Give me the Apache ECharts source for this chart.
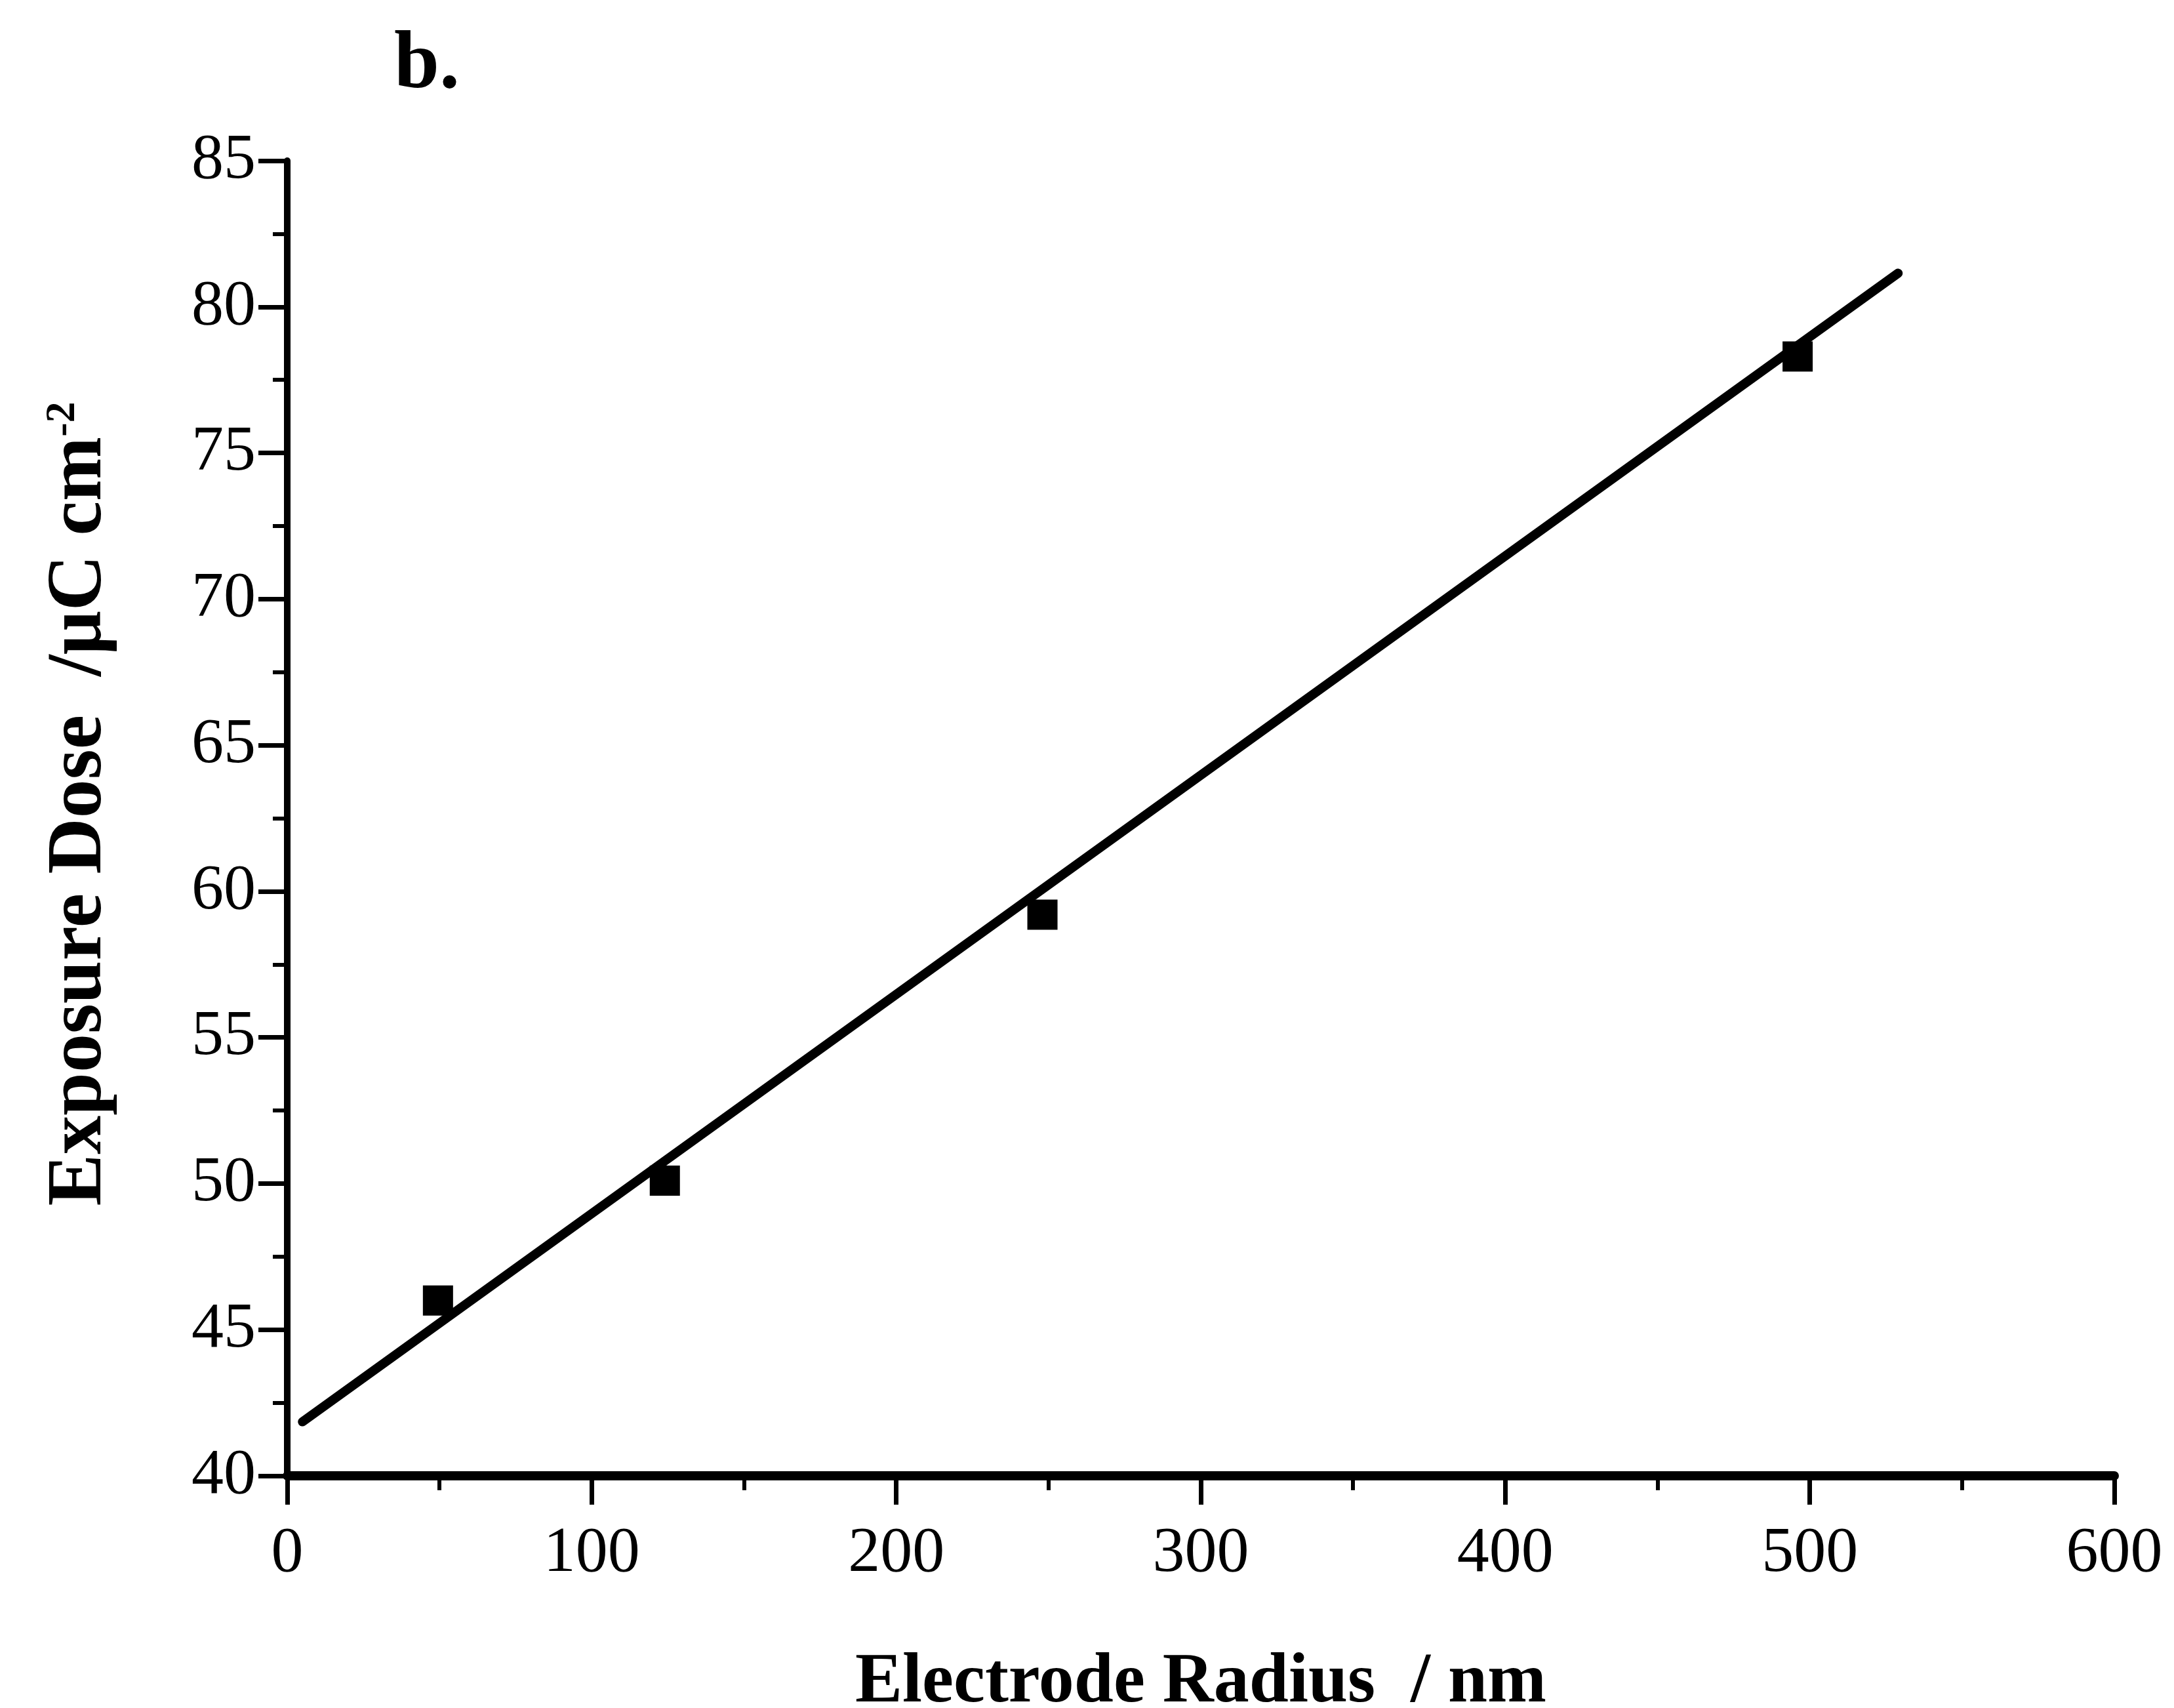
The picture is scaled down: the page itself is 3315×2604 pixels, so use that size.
<!DOCTYPE html>
<html>
<head>
<meta charset="utf-8">
<title>Exposure dose vs electrode radius</title>
<script src="https://cdn.jsdelivr.net/npm/echarts@6/dist/echarts.min.js"></script>
<style>
    html, body { margin: 0; padding: 0; background: #fff; }
    #chart { width: 3315px; height: 2604px; }
</style>
</head>
<body>
<div id="chart"></div>
<script>
// measured points
const radius = [49.5, 124, 248, 496]
const dose = [46.0, 50.1, 59.2, 78.3]
// fitted line, two ends
const fitX = [5, 529]
const fitY = [41.85, 81.15]

const xTicks = [0, 100, 200, 300, 400, 500, 600]
const yTicks = [40, 45, 50, 55, 60, 65, 70, 75, 80, 85]

const font = "'Liberation Serif', 'Times New Roman', serif"

function pairs(xs, ys) {
    return xs.map(function (x, i) { return [x, ys[i]] })
}

const myChart = echarts.init(document.getElementById('chart'), null, { renderer: 'canvas' })

const option = {
    backgroundColor: '#fff',
    animation: false,
    title: {
        text: 'b.',
        left: 596,
        top: 34,
        textStyle: { fontFamily: font, fontWeight: 'bold', fontSize: 124, color: '#000' }
    },
    grid: { left: 438, right: 91, top: 245, bottom: 354, outerBoundsMode: 'none' },
    xAxis: {
        type: 'value',
        min: xTicks[0],
        max: xTicks[xTicks.length - 1],
        interval: 100,
        name: 'Electrode Radius  / nm',
        nameLocation: 'middle',
        nameGap: 262,
        nameTextStyle: { fontFamily: font, fontWeight: 'bold', fontSize: 108, color: '#000' },
        axisLine: { onZero: false, lineStyle: { color: '#000', width: 14 } },
        axisTick: { length: 44, lineStyle: { color: '#000', width: 7 } },
        minorTick: { show: true, splitNumber: 2, length: 22, lineStyle: { color: '#000', width: 6 } },
        splitLine: { show: false },
        axisLabel: { margin: 70, fontFamily: font, fontSize: 98, color: '#000' }
    },
    yAxis: {
        type: 'value',
        min: yTicks[0],
        max: yTicks[yTicks.length - 1],
        interval: 5,
        name: 'Exposure Dose  /\u03bcC cm{sup|-2}',
        nameLocation: 'middle',
        nameGap: 256,
        nameRotate: 90,
        nameTextStyle: {
            fontFamily: font, fontWeight: 'bold', fontSize: 118, color: '#000',
            padding: [0, 0, 0, 44],
            rich: {
                sup: { fontFamily: font, fontWeight: 'bold', fontSize: 64, color: '#000', verticalAlign: 'top', padding: [0, 0, 54, 0] }
            }
        },
        axisLine: { onZero: false, lineStyle: { color: '#000', width: 10 } },
        axisTick: { length: 44, lineStyle: { color: '#000', width: 7 } },
        minorTick: { show: true, splitNumber: 2, length: 22, lineStyle: { color: '#000', width: 6 } },
        splitLine: { show: false },
        axisLabel: { margin: 48, fontFamily: font, fontSize: 98, color: '#000' }
    },
    series: [
        {
            type: 'line',
            data: pairs(fitX, fitY),
            symbol: 'none',
            lineStyle: { color: '#000', width: 14, cap: 'round' },
            z: 2
        },
        {
            type: 'scatter',
            data: pairs(radius, dose),
            symbol: 'rect',
            symbolSize: 46,
            itemStyle: { color: '#000', opacity: 1 },
            z: 3
        }
    ]
}

myChart.setOption(option)
</script>
</body>
</html>
